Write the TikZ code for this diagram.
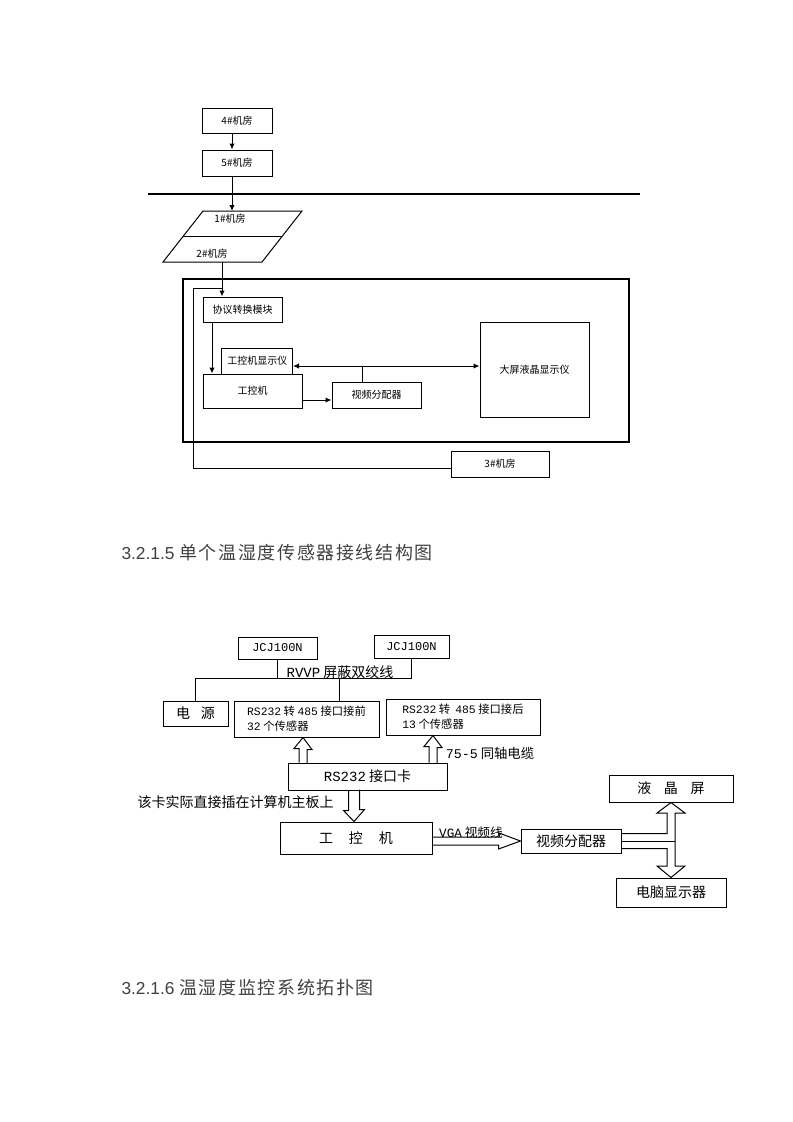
\documentclass[tikz,border=0pt]{standalone}
\usepackage{fontspec}
\setmainfont{Noto Sans CJK SC}
\setmonofont{Liberation Mono}
\newfontfamily\arialfont{Liberation Sans}
\newfontfamily\titlefont[LetterSpace=9]{Noto Sans CJK SC}
\usetikzlibrary{arrows.meta, calc, positioning}

\begin{document}
\begin{tikzpicture}[x=0.75pt, y=-0.75pt, line width=0.75pt,
    box/.style={draw, inner sep=0pt, font=\fontsize{7.5}{9}\selectfont},
    cnbox/.style={draw, inner sep=0pt, font=\fontsize{10.5}{12}\selectfont},
    arr/.style={-{Latex[length=4.5pt,width=4pt]}},
    heading/.style={anchor=west, inner sep=0pt, text=black!75}]
    \useasboundingbox (0,0) rectangle (793,1122);

    % rooms on top
    \node[box, minimum width=52.5pt, minimum height=18.75pt] (r4) at (237,120.5) {4\#机房};
    \node[box, minimum width=52.5pt, minimum height=19.5pt] (r5) at (237,163) {5\#机房};
    \draw[line width=1.5pt] (148,193.5) -- (640,193.5);
    \coordinate (pt) at (232,211);
    \coordinate (pb) at (222,262);
    \draw (163,262) -- (203,211) -- (302,211) -- (262,262) -- cycle;
    \draw (183,236.5) -- (282,236.5);
    \node[font=\fontsize{7.5}{9}\selectfont] (r1) at (230,219) {1\#机房};
    \node[font=\fontsize{7.5}{9}\selectfont] (r2) at (212,254) {2\#机房};
    \draw[arr] ([xshift=-3.75pt]r4.south) -- ([xshift=-3.75pt]r5.north);
    \draw[arr] ([xshift=-3.75pt]r5.south) -- (pt);

    % monitor room
    \node[draw, line width=1.5pt, minimum width=334.5pt, minimum height=121.9pt] (sys) at (405.5,360.75) {};
    \node[box, minimum width=59.25pt, minimum height=18.75pt] (xy) at (242.5,309.5) {协议转换模块};
    \node[box, minimum width=52.9pt, minimum height=19.5pt] (gkjd) at (257.25,361) {工控机显示仪};
    \node[box, minimum width=74.25pt, minimum height=25.5pt] (gkj) at (252.5,391) {工控机};
    \node[box, minimum width=66.75pt, minimum height=19.5pt] (vd) at (376.5,395) {视频分配器};
    \node[box, minimum width=81.75pt, minimum height=71.25pt] (lcd) at (534.5,369.5) {大屏液晶显示仪};
    \node[box, minimum width=73.5pt, minimum height=19.5pt] (r3) at (500,464) {3\#机房};
    \coordinate (join) at (222,288);
    \coordinate (split) at (362,366);
    \draw[arr] (pb) -- (xy.north -| pb);
    \draw ([yshift=-3pt]r3.west) -| (193,288) -- (join);
    \draw[arr] (xy.south -| 212,0) -- (gkj.north -| 212,0);
    \draw[arr] (gkj.east |- 0,400) -- (vd.west |- 0,400);
    \draw (vd.north -| split) -- (split);
    \draw[arr] (split) -- (gkjd.east |- split);
    \draw[arr] (split) -- (lcd.west |- split);

    \node[heading] (t1) at (121,553) {\fontsize{13}{15}\selectfont\arialfont 3.2.1.5 \fontsize{13.5}{15}\titlefont 单个温湿度传感器接线结构图};

    % sensor wiring
    \node[draw, inner sep=0pt, font=\fontsize{9}{11}\ttfamily, minimum width=59.25pt, minimum height=16.5pt] (j1) at (277.5,648) {JCJ100N};
    \node[draw, inner sep=0pt, font=\fontsize{9}{11}\ttfamily, minimum width=56.25pt, minimum height=17.25pt] (j2) at (411.5,646.5) {JCJ100N};
    \node[cnbox, minimum width=48.75pt, minimum height=18.75pt] (ps) at (195.5,713.5) {电\hspace{8pt}源};
    \node[draw, inner sep=0pt, align=left, font=\fontsize{8.5}{11.25}\selectfont, minimum width=108.75pt, minimum height=27pt] (rs1) at (306.5,719)
        {\texttt{RS232} 转 \texttt{485} 接口接前\\\texttt{32} 个传感器};
    \node[draw, inner sep=0pt, align=left, font=\fontsize{8.5}{11.25}\selectfont, minimum width=115.5pt, minimum height=27pt] (rs2) at (463,717)
        {\texttt{RS232} 转\ \ \texttt{485} 接口接后\\\texttt{13} 个传感器};
    \node[cnbox, minimum width=119.25pt, minimum height=20.25pt] (kk) at (367.5,776.5) {\texttt{RS232} 接口卡};
    \node[cnbox, minimum width=114pt, minimum height=24pt] (gkj2) at (356,838) {工\hspace{12pt}控\hspace{12pt}机};
    \node[cnbox, minimum width=75pt, minimum height=18pt] (vd2) at (571,841) {视频分配器};
    \node[cnbox, minimum width=93pt, minimum height=20.25pt] (lcd2) at (671,788.5) {液\hspace{9.5pt}晶\hspace{9.5pt}屏};
    \node[cnbox, minimum width=82.5pt, minimum height=21.75pt] (pc) at (671,892.5) {电脑显示器};
    \coordinate (bus) at (0,678);
    \draw (ps.north) -- (ps.north |- bus) -- (j2.south |- bus) -- (j2.south);
    \draw (j1.south) -- (j1.south |- bus);
    \draw (rs1.north -| 339,0) -- (bus -| 339,0);
    \node[anchor=base, inner sep=0pt, font=\fontsize{10.5}{12}\selectfont] (rvvp) at (340,677) {\texttt{RVVP} 屏蔽双绞线};
    % hollow arrows
    \draw (kk.north -| 299,0) -- ++(0,-14) -- ++(-5,0) -- (rs1.south -| 303,0) -- ++(9,12) -- ++(-5,0) -- ++(0,14);
    \draw (kk.north -| 429,0) -- ++(0,-16) -- ++(-5,0) -- (rs2.south -| 433,0) -- ++(9,12) -- ++(-5,0) -- ++(0,16);
    \node[font=\fontsize{10}{12}\selectfont] (coax) at (490,753) {\texttt{75-5} 同轴电缆};
    \draw (kk.south -| 348.5,0) -- ++(0,20) -- ++(-5,0) -- (gkj2.north -| 354,0) -- ++(10.5,-12) -- ++(-5,0) -- ++(0,-20);
    \node[font=\fontsize{10.5}{12}\selectfont] (note) at (235.5,802) {该卡实际直接插在计算机主板上};
    \draw (gkj2.east |- 0,837) -- (499,837) -- ++(0,-4) -- (vd2.west) -- ++(-22,8) -- ++(0,-4) -- (gkj2.east |- 0,845);
    \node[font=\fontsize{9.5}{12}\selectfont] (vgal) at (471,833) {\texttt{VGA} 视频线};
    \draw (621,833.5) -- (667,833.5) -- (667,813) -- (657,813) -- (lcd2.south) -- (685,813) -- (675,813)
        -- (675,866) -- (685,866) -- (pc.north) -- (657,866) -- (667,866) -- (667,848.5) -- (621,848.5);
    \draw (vd2.east) -- (vd2.east -| 675,0);

    \node[heading] (t2) at (121,988) {\fontsize{13}{15}\selectfont\arialfont 3.2.1.6 \fontsize{13.5}{15}\titlefont 温湿度监控系统拓扑图};
\end{tikzpicture}
\end{document}
